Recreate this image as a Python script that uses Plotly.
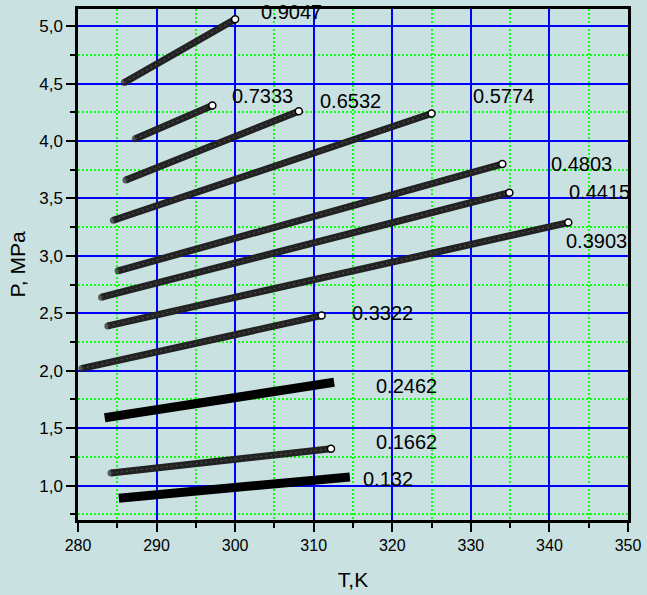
import plotly.graph_objects as go

labels = ["0.9047", "0.7333", "0.6532", "0.5774", "0.4803", "0.4415",
          "0.3903", "0.3322", "0.2462", "0.1662", "0.132"]
t_start = [285.9, 287.3, 286.1, 284.5, 285.1, 283.0, 283.8, 280.5, 283.4, 284.2, 285.2]
t_end = [300.0, 297.1, 308.1, 325.0, 334.0, 334.9, 342.4, 311.0, 312.6, 312.2, 314.6]
p_start = [4.51, 4.02, 3.66, 3.31, 2.87, 2.64, 2.39, 2.02, 1.59, 1.11, 0.89]
p_end = [5.06, 4.31, 4.26, 4.24, 3.80, 3.55, 3.29, 2.48, 1.90, 1.32, 1.075]
end_marker = [True, True, True, True, True, True, True, True, False, True, False]
solid_black = [False, False, False, False, False, False, False, False, True, False, True]
label_t = [303.0, 299.3, 310.5, 330.0, 339.9, 342.2, 341.8, 314.6, 317.7, 317.7, 316.0]
label_p = [5.12, 4.39, 4.35, 4.39, 3.80, 3.56, 3.13, 2.50, 1.87, 1.38, 1.055]

x_ticks = [280, 290, 300, 310, 320, 330, 340, 350]
x_minor = [285, 295, 305, 315, 325, 335, 345]
y_ticks = [1.0, 1.5, 2.0, 2.5, 3.0, 3.5, 4.0, 4.5, 5.0]
y_minor = [0.75, 1.25, 1.75, 2.25, 2.75, 3.25, 3.75, 4.25, 4.75]
y_tick_text = ["1,0", "1,5", "2,0", "2,5", "3,0", "3,5", "4,0", "4,5", "5,0"]

BG = "#c9e1e1"
FONT = "Liberation Sans, Arial, sans-serif"

fig = go.Figure()
for i in range(len(labels)):
    xs = [t_start[i], t_end[i]]
    ys = [p_start[i], p_end[i]]
    if solid_black[i]:
        fig.add_trace(go.Scatter(x=xs, y=ys, mode="lines",
                                 line=dict(color="black", width=9),
                                 showlegend=False, hoverinfo="skip"))
    else:
        fig.add_trace(go.Scatter(x=xs, y=ys, mode="lines+markers",
                                 line=dict(color="#222222", width=7),
                                 marker=dict(size=[7, 0], color="#222222",
                                             line=dict(width=0)),
                                 showlegend=False, hoverinfo="skip"))
        fig.add_trace(go.Scatter(x=xs, y=ys, mode="lines",
                                 line=dict(color="#4a4a4a", width=1.2, dash="2px,3px"),
                                 showlegend=False, hoverinfo="skip"))
    if end_marker[i]:
        fig.add_trace(go.Scatter(x=[t_end[i]], y=[p_end[i]], mode="markers",
                                 marker=dict(size=7, color="white",
                                             line=dict(color="black", width=1.5)),
                                 showlegend=False, hoverinfo="skip"))
    fig.add_annotation(x=label_t[i], y=label_p[i], text=labels[i],
                       showarrow=False, xanchor="left", yanchor="middle",
                       font=dict(family=FONT, size=20, color="black"))

fig.update_layout(
    width=647, height=595,
    margin=dict(l=78, r=15, t=6, b=75),
    paper_bgcolor=BG, plot_bgcolor=BG,
    font=dict(family=FONT, color="black"),
)
fig.update_xaxes(
    range=[280, 350], tickvals=x_ticks, ticks="outside", ticklen=9,
    tickwidth=2, tickcolor="black",
    showline=True, linecolor="black", linewidth=2.5, mirror=True,
    showgrid=True, gridcolor="#0000ff", gridwidth=1.5, zeroline=False,
    tickfont=dict(size=16),
    minor=dict(tickvals=x_minor, ticks="outside",
               ticklen=5, tickwidth=2, tickcolor="black", showgrid=True,
               gridcolor="#11ff11", griddash="2px,2px", gridwidth=1.5),
    title=dict(text="T,K", font=dict(size=21), standoff=20),
)
fig.update_yaxes(
    range=[0.70, 5.15], tickvals=y_ticks, ticktext=y_tick_text,
    ticks="outside", ticklen=9, tickwidth=2, tickcolor="black",
    showline=True, linecolor="black", linewidth=2.5, mirror=True,
    showgrid=True, gridcolor="#0000ff", gridwidth=1.5, zeroline=False,
    tickfont=dict(size=17),
    minor=dict(tickvals=y_minor,
               ticks="outside", ticklen=5, tickwidth=2, tickcolor="black",
               showgrid=True, gridcolor="#11ff11", griddash="2px,2px", gridwidth=1.5),
    title=dict(text="P, MPa", font=dict(size=21), standoff=8),
)

fig.write_html("out.html")
